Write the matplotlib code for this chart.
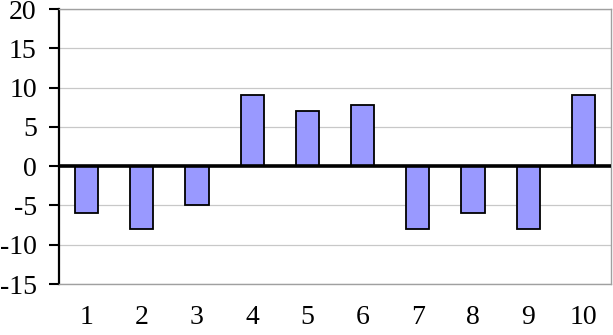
import matplotlib
matplotlib.use("Agg")
import matplotlib.pyplot as plt

categories = ["1", "2", "3", "4", "5", "6", "7", "8", "9", "10"]
values = [-6, -8, -5, 9, 7, 7.8, -8, -6, -8, 9]
yticks = [-15, -10, -5, 0, 5, 10, 15, 20]

plt.rcParams['font.family'] = ['Liberation Serif', 'DejaVu Serif']

fig = plt.figure(figsize=(6.13, 3.35), dpi=100)
ax = fig.add_axes([0.0962, 0.1522, 0.9005, 0.8209])

x = list(range(len(categories)))
ax.bar(x, values, width=0.42, color='#9999FF', edgecolor='black', linewidth=1.3, zorder=3)
ax.axhline(0, color='black', linewidth=2.6, zorder=4)

ax.set_xlim(-0.5, len(categories) - 0.5)
ax.set_ylim(-15, 20)
ax.set_yticks(yticks)
ax.set_yticklabels([str(t) for t in yticks], fontsize=20)
ax.set_xticks(x)
ax.set_xticklabels(categories, fontsize=20)
ax.tick_params(axis='x', length=0, pad=15)
ax.tick_params(axis='y', length=7, width=1.5, direction='out', pad=9)

ax.grid(axis='y', color='#C8C8C8', linewidth=0.9, zorder=0)
for s in ['top', 'right', 'bottom']:
    ax.spines[s].set_color('#A0A0A0')
    ax.spines[s].set_linewidth(1.0)
ax.spines['left'].set_color('black')
ax.spines['left'].set_linewidth(1.6)

fig.savefig('out.png', dpi=100)
